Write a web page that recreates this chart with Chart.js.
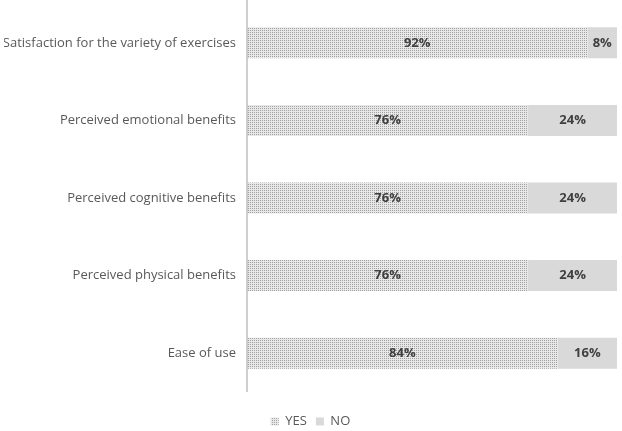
<!DOCTYPE html>
<html>
<head>
<meta charset="utf-8">
<script src="https://cdn.jsdelivr.net/npm/chart.js@4"></script>
<style>
  html, body { margin: 0; padding: 0; background: #fff; }
  #wrap { width: 622px; height: 431px; position: relative; }
</style>
</head>
<body>
<div id="wrap"><canvas id="chart"></canvas></div>
<script>
// data
const categories = [
    'Satisfaction for the variety of exercises',
    'Perceived emotional benefits',
    'Perceived cognitive benefits',
    'Perceived physical benefits',
    'Ease of use'
];
const yesValues = [92, 76, 76, 76, 84];
const noValues = [8, 24, 24, 24, 16];

document.addEventListener('DOMContentLoaded', function() {
    'use strict';

    // dotted fill for YES bars
    const pc = document.createElement('canvas');
    pc.width = 2; pc.height = 2;
    const px = pc.getContext('2d');
    px.fillStyle = '#e8e8e8';
    px.fillRect(0, 0, 2, 2);
    px.fillStyle = '#a0a0a0';
    px.fillRect(0, 0, 1, 1);
    const ctx = document.getElementById('chart').getContext('2d');
    const dots = ctx.createPattern(pc, 'repeat');

    // percent labels in the middle of each bar, plus the left axis line
    const barLabels = {
        id: 'barLabels',
        afterDatasetsDraw(chart) {
            const c = chart.ctx;
            const area = chart.chartArea;
            c.save();
            c.strokeStyle = '#bfbfbf';
            c.lineWidth = 1.5;
            c.beginPath();
            c.moveTo(area.left, 0);
            c.lineTo(area.left, area.bottom);
            c.stroke();

            c.font = 'bold 13px "Open Sans", sans-serif';
            c.fillStyle = '#404040';
            c.textAlign = 'center';
            c.textBaseline = 'middle';
            chart.data.datasets.forEach((ds, i) => {
                chart.getDatasetMeta(i).data.forEach((bar, j) => {
                    const mid = (bar.x + bar.base) / 2;
                    c.fillText(ds.data[j] + '%', mid, bar.y);
                });
            });
            c.restore();
        }
    };

    new Chart(ctx, {
        type: 'bar',
        data: {
            labels: categories,
            datasets: [
                {
                    label: 'YES',
                    data: yesValues,
                    backgroundColor: dots,
                    categoryPercentage: 1,
                    barPercentage: 0.4
                },
                {
                    label: 'NO',
                    data: noValues,
                    backgroundColor: '#d9d9d9',
                    categoryPercentage: 1,
                    barPercentage: 0.4
                }
            ]
        },
        options: {
            indexAxis: 'y',
            responsive: true,
            maintainAspectRatio: false,
            animation: false,
            layout: { padding: { top: 4, right: 5, left: 4, bottom: -7 } },
            plugins: {
                legend: {
                    position: 'bottom',
                    labels: {
                        boxWidth: 8,
                        boxHeight: 8,
                        padding: 9,
                        color: '#595959',
                        font: { family: '"Open Sans", sans-serif', size: 13 }
                    }
                },
                tooltip: { enabled: false }
            },
            scales: {
                x: {
                    stacked: true,
                    min: 0,
                    max: 100,
                    ticks: { display: false },
                    grid: { display: false, drawTicks: false },
                    border: { display: false },
                    afterFit: function(scale) {
                        scale.height = 14;
                        scale.paddingLeft = 0;
                        scale.paddingRight = 0;
                    }
                },
                y: {
                    stacked: true,
                    grid: { display: false, drawTicks: false },
                    border: { display: false },
                    ticks: {
                        padding: 11,
                        color: '#595959',
                        font: { family: '"Open Sans", sans-serif', size: 13 }
                    },
                    afterFit: function(scale) {
                        scale.width = 243;
                        scale.paddingTop = 0;
                        scale.paddingBottom = 0;
                    }
                }
            }
        },
        plugins: [barLabels]
    });
});
</script>
</body>
</html>
